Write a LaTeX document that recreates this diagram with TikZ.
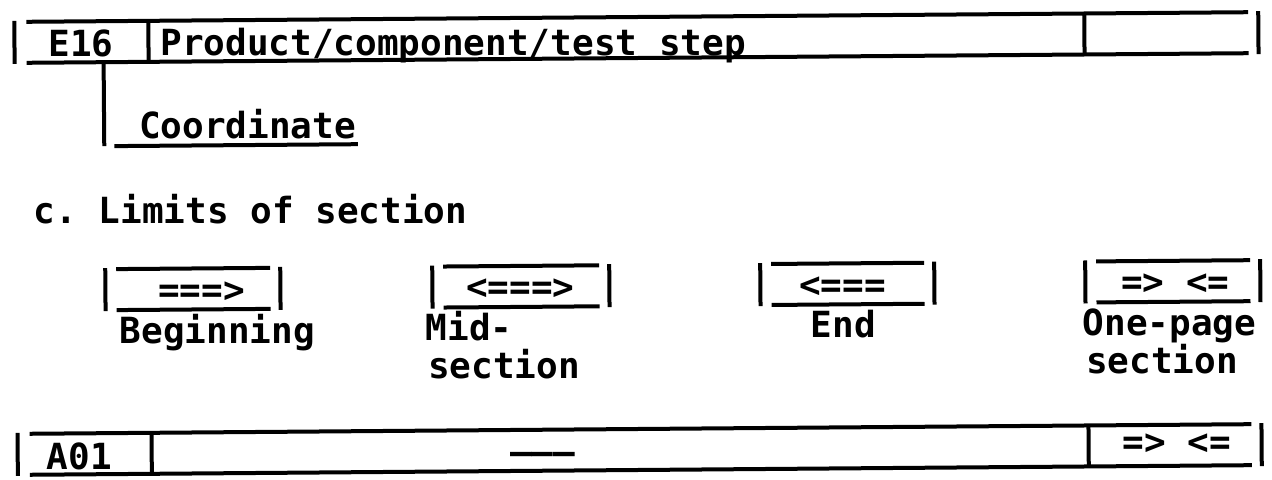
\documentclass[tikz,border=0pt]{standalone}
\usepackage{fontspec}
\setmonofont{DejaVu Sans Mono}
\usetikzlibrary{positioning}

\begin{document}
\begin{tikzpicture}[x = 0.5pt, y = -0.5pt, line width = 2pt,
    every node/.style = { inner sep = 0, anchor = base west, font = \ttfamily\bfseries\fontsize{18}{21}\selectfont },
    sign/.style = { anchor = base }]
    \useasboundingbox (0,0) rectangle (1272,479);

    \begin{scope}[rotate around = {0.45:(636,240)}]
    % top field
    \draw (16,16) -- (16,59);
    \draw (28,17) -- (1250,17) (28,58) -- (1250,58);
    \draw (150,17) -- (150,58) (1086,17) -- (1086,58);
    \draw (1260,16) -- (1260,59);
    \node (code) at (48,52) {E16};
    \node (title) at (160,52) {Product/component/test step};

    \coordinate (drop) at (105,58);
    \node (coord) at (138,135) {Coordinate};
    \draw (drop) -- (105,142);
    \draw (115,142) -- (coord.base east |- 0,142);

    \node (limits) at (32,219) {c. Limits of section};

    % limit marks
    \foreach \i/\l/\r/\m/\a in {1/105/280/201/===>, 2/432/609/520/<===>, 3/760/934/842/<===, 4/1085/1260/1175/=> <=} {
      \draw (\l,264) -- (\l,307) (\r,264) -- (\r,307);
      \draw (\l+11,265) -- (\r-10,265) (\l+11,306) -- (\r-10,306);
      \node [sign] (arrow\i) at (\m,299) {\a};
    }
    \node (lab1) at (117,339) {Beginning};
    \node (lab2) at (423,339) {Mid-};
    \node (lab2b) at (425,377) {section};
    \node (lab3) at (808,339) {End};
    \node (lab4) at (1080,339) {One-page};
    \node (lab4b) at (1083,377) {section};

    % bottom field
    \draw (16,428) -- (16,471);
    \draw (28,429) -- (1250,429) (28,470) -- (1250,470);
    \draw (150,429) -- (150,470) (1087,429) -- (1087,470);
    \draw (1260,428) -- (1260,471);
    \node (code2) at (43,465) {A01};
    \node [sign] (blank) at (541,464) {———};
    \node [sign] (ends) at (1175,459) {=> <=};
    \end{scope}
\end{tikzpicture}
\end{document}
